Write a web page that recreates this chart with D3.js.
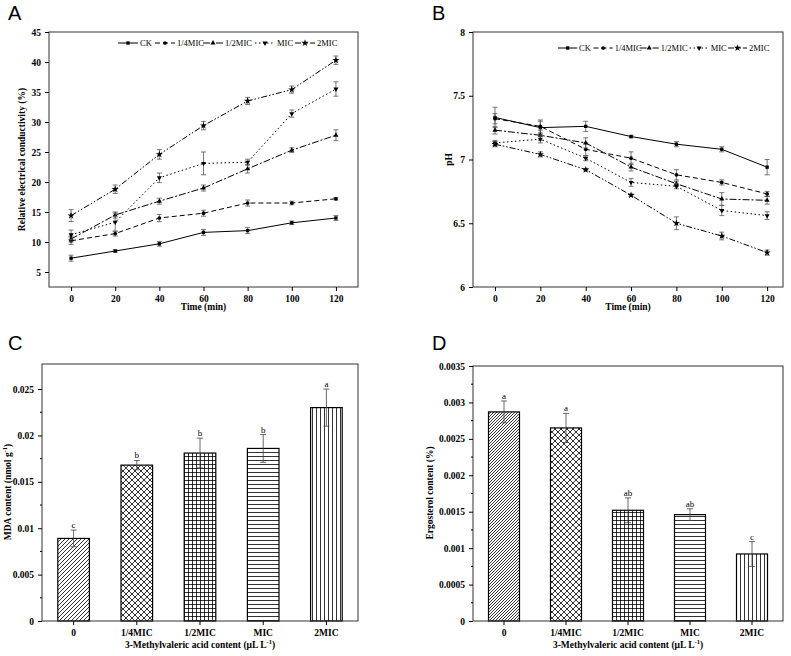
<!DOCTYPE html>
<html><head><meta charset="utf-8">
<script src="https://cdn.jsdelivr.net/npm/d3@7"></script>
<style>body{margin:0;background:#fff}svg{font-family:"Liberation Serif",serif}text{fill:#000}</style>
</head><body>
<svg id="c" width="791" height="656"></svg>
<script>
const times=[0,20,40,60,80,100,120];
const seriesNames=["CK","1/4MIC","1/2MIC","MIC","2MIC"];
const condVals=[[7.3,8.5,9.7,11.6,11.9,13.2,14.0],[10.2,11.4,14.0,14.8,16.5,16.5,17.2],[10.5,14.5,16.8,19.0,22.2,25.3,27.8],[11.2,13.3,20.7,23.1,23.3,31.4,35.5],[14.4,18.8,24.6,29.4,33.5,35.4,40.3]];
const condErr=[[0.5,0.2,0.4,0.5,0.5,0.3,0.4],[0.6,0.4,0.6,0.5,0.5,0.3,0.2],[0.5,0.5,0.5,0.5,0.7,0.4,0.9],[0.8,1.5,0.8,1.9,0.5,0.6,1.2],[1.0,0.7,0.8,0.7,0.6,0.6,0.7]];
const phVals=[[7.33,7.25,7.26,7.18,7.12,7.08,6.94],[7.32,7.26,7.08,7.01,6.88,6.82,6.73],[7.23,7.19,7.13,6.94,6.81,6.69,6.68],[7.13,7.16,7.01,6.82,6.79,6.60,6.56],[7.12,7.04,6.92,6.72,6.50,6.40,6.27]];
const phErr=[[0.08,0.05,0.04,0.01,0.02,0.02,0.06],[0.04,0.05,0.05,0.05,0.04,0.02,0.02],[0.03,0.04,0.04,0.03,0.02,0.05,0.03],[0.02,0.03,0.02,0.03,0.02,0.04,0.03],[0.02,0.02,0.01,0.01,0.05,0.03,0.02]];
const groups=["0","1/4MIC","1/2MIC","MIC","2MIC"];
const mdaVals=[0.0089,0.0168,0.0181,0.0186,0.0230];
const mdaErr=[0.0009,0.0005,0.0016,0.0015,0.0020];
const mdaLetters=["c","b","b","b","a"];
const ergVals=[0.00287,0.00265,0.00152,0.00146,0.00092];
const ergErr=[0.00015,0.0002,0.00017,0.00008,0.00017];
const ergLetters=["a","a","ab","ab","c"];
const yTicksA=[5,10,15,20,25,30,35,40,45];
const yTicksB=[6,6.5,7,7.5,8];
const yTicksC=[0,0.005,0.01,0.015,0.02,0.025];
const yTicksD=[0,0.0005,0.001,0.0015,0.002,0.0025,0.003,0.0035];

const svg=d3.select("#c");
const defs=svg.append("defs");
function pat(id,size,draw){const p=defs.append("pattern").attr("id",id).attr("patternUnits","userSpaceOnUse").attr("width",size).attr("height",size);p.append("rect").attr("width",size).attr("height",size).attr("fill","#fff");draw(p);}
const st=(s)=>s.attr("stroke","#000").attr("stroke-width",0.8);
pat("p0",4,p=>{st(p.append("path").attr("d","M0,4L4,0M-1,1L1,-1M3,5L5,3"));});
pat("p0d",3,p=>{st(p.append("path").attr("d","M0,3L3,0M-1,1L1,-1M2,4L4,2"));});
pat("p1",6,p=>{st(p.append("path").attr("d","M0,6L6,0M0,0L6,6M-1,1L1,-1M5,7L7,5M-1,5L1,7M5,-1L7,1"));});
pat("p2",4,p=>{st(p.append("path").attr("d","M0,0.5H4M0.5,0V4"));});
pat("p3",4,p=>{st(p.append("path").attr("d","M0,0.5H4"));});
pat("p4",4,p=>{st(p.append("path").attr("d","M0.5,0V4"));});
const patsC=["p0","p1","p2","p3","p4"], patsD=["p0d","p1","p2","p3","p4"];

const dashes=[null,"5,3","7,2,2,2","1.5,2.5","6,2,1.5,2,1.5,2"];
const markers=[d3.symbolSquare,d3.symbolCircle,d3.symbolTriangle,d3.symbolTriangle,d3.symbolStar];
function sym(g,i,x,y){g.append("path").attr("d",d3.symbol().type(markers[i]).size(i==4?16:11)()).attr("transform",`translate(${x},${y})${i==3?" rotate(180)":""}`).attr("fill","#000");}

function frame(l,t,r,b){svg.append("rect").attr("x",l).attr("y",t).attr("width",r-l).attr("height",b-t).attr("fill","none").attr("stroke","#333").attr("stroke-width",1);}
function styleAxis(g){g.attr("font-family",'"Liberation Serif", serif');g.select(".domain").remove();g.selectAll("text").attr("font-size",9.5).attr("font-weight","bold").attr("fill","#000");}
function yAxis(x,y,ticks,fmt,minor){const g=svg.append("g").attr("transform",`translate(${x},0)`).call(d3.axisLeft(y).tickValues(ticks).tickFormat(fmt).tickSize(4).tickPadding(4));
 styleAxis(g);
 if(minor){const m=[];for(let i=0;i<ticks.length-1;i++)m.push((ticks[i]+ticks[i+1])/2);g.selectAll(".mn").data(m).join("line").attr("x1",0).attr("x2",-2).attr("y1",d=>y(d)).attr("y2",d=>y(d)).attr("stroke","#000");}}
function xAxisG(y,scale,ticks){const g=svg.append("g").attr("transform",`translate(0,${y})`).call((ticks?d3.axisBottom(scale).tickValues(ticks):d3.axisBottom(scale)).tickSize(4).tickPadding(4));
 styleAxis(g);}
function label(t,x,y,rot,size){const e=svg.append("text").attr("x",x).attr("y",y).attr("text-anchor","middle").attr("font-size",size||9.5).attr("font-weight","bold");if(rot)e.attr("transform",`rotate(-90,${x},${y})`);return e.text(t);}
function letter(t,x,y){svg.append("text").attr("x",x).attr("y",y).attr("font-family","Liberation Sans, sans-serif").attr("font-size",20).text(t);}

function linePanel(L,T,R,B,xd,yd,vals,errs,ticks,fmt,title,tx,legY,legX,k){
 const x=d3.scaleLinear().domain(xd).range([L,R]);const y=d3.scaleLinear().domain(yd).range([B,T]);
 vals.forEach((v,i)=>{
  svg.append("path").datum(v).attr("d",d3.line().x((d,j)=>x(times[j])).y(d=>y(d))).attr("fill","none").attr("stroke","#000").attr("stroke-width",1).attr("stroke-dasharray",dashes[i]);
  v.forEach((d,j)=>{const e=errs[i][j],cx=x(times[j]);
   svg.append("path").attr("d",`M${cx},${y(d-e)}V${y(d+e)}M${cx-2.5},${y(d-e)}H${cx+2.5}M${cx-2.5},${y(d+e)}H${cx+2.5}`).attr("stroke","#555").attr("stroke-width",0.8).attr("fill","none");
   sym(svg,i,cx,y(d));});
 });
 frame(L,T,R,B);yAxis(L,y,ticks,fmt,false);xAxisG(B,x,times);
 label("Time (min)",(L+R)/2,B+23);label(title,tx,(T+B)/2,true);
 const lw=[37,48,52,40];let lx=legX;
 seriesNames.forEach((n,i)=>{svg.append("line").attr("x1",lx).attr("x2",lx+20*k).attr("y1",legY).attr("y2",legY).attr("stroke","#000").attr("stroke-dasharray",dashes[i]);
  sym(svg,i,lx+10*k,legY);svg.append("text").attr("x",lx+22*k).attr("y",legY+3).attr("font-size",8.5).text(n);lx+=(lw[i]||0)*k;});
}
linePanel(49,32,358,287,[-10,130],[2.5,45],condVals,condErr,yTicksA,d3.format("d"),"Relative electrical conductivity (%)",25,43,118,1);
linePanel(473,32,783,287,[-9.7,127],[6,8],phVals,phErr,yTicksB,d=>d,"pH",452,48,558,0.96);

function barPanel(L,T,R,B,ymax,vals,errs,lets,pats,ticks){
 const x=d3.scaleBand().domain(groups).range([L,R]).paddingInner(0.5).paddingOuter(0.25);
 const y=d3.scaleLinear().domain([0,ymax]).range([B,T]);
 vals.forEach((v,i)=>{const bx=x(groups[i]),bw=x.bandwidth(),cx=bx+bw/2;
  svg.append("rect").attr("x",bx).attr("y",y(v)).attr("width",bw).attr("height",B-y(v)).attr("fill",`url(#${pats[i]})`).attr("stroke","#000").attr("stroke-width",1.2);
  const e=errs[i];
  svg.append("path").attr("d",`M${cx},${y(v-e)}V${y(v+e)}M${cx-3},${y(v-e)}H${cx+3}M${cx-3},${y(v+e)}H${cx+3}`).attr("stroke","#444").attr("stroke-width",0.8).attr("fill","none");
  svg.append("text").attr("x",cx).attr("y",y(v+e)-2).attr("text-anchor","middle").attr("font-size",9).attr("fill","#000").text(lets[i]);
 });
 frame(L,T,R,B);yAxis(L,y,ticks,d=>d,true);xAxisG(B,x);
 const t=label("",(L+R)/2,B+27);t.append("tspan").text("3-Methylvaleric acid content (μL L");t.append("tspan").attr("dy",-4).attr("font-size",6.5).text("-1");t.append("tspan").attr("dy",4).text(")");
}
barPanel(42,364,358,621,0.0277,mdaVals,mdaErr,mdaLetters,patsC,yTicksC);
{const t=svg.append("text").attr("x",11).attr("y",492).attr("text-anchor","middle").attr("font-size",9.5).attr("font-weight","bold").attr("transform","rotate(-90,11,492)");
 t.append("tspan").text("MDA content (nmol g");t.append("tspan").attr("dy",-4).attr("font-size",6.5).text("-1");t.append("tspan").attr("dy",4).text(")");}
barPanel(473,366,783,621,0.0035,ergVals,ergErr,ergLetters,patsD,yTicksD);
label("Ergosterol content (%)",433,493,true);
letter("A",8,20);letter("B",432,20);letter("C",8,350);letter("D",432,350);
</script></body></html>
